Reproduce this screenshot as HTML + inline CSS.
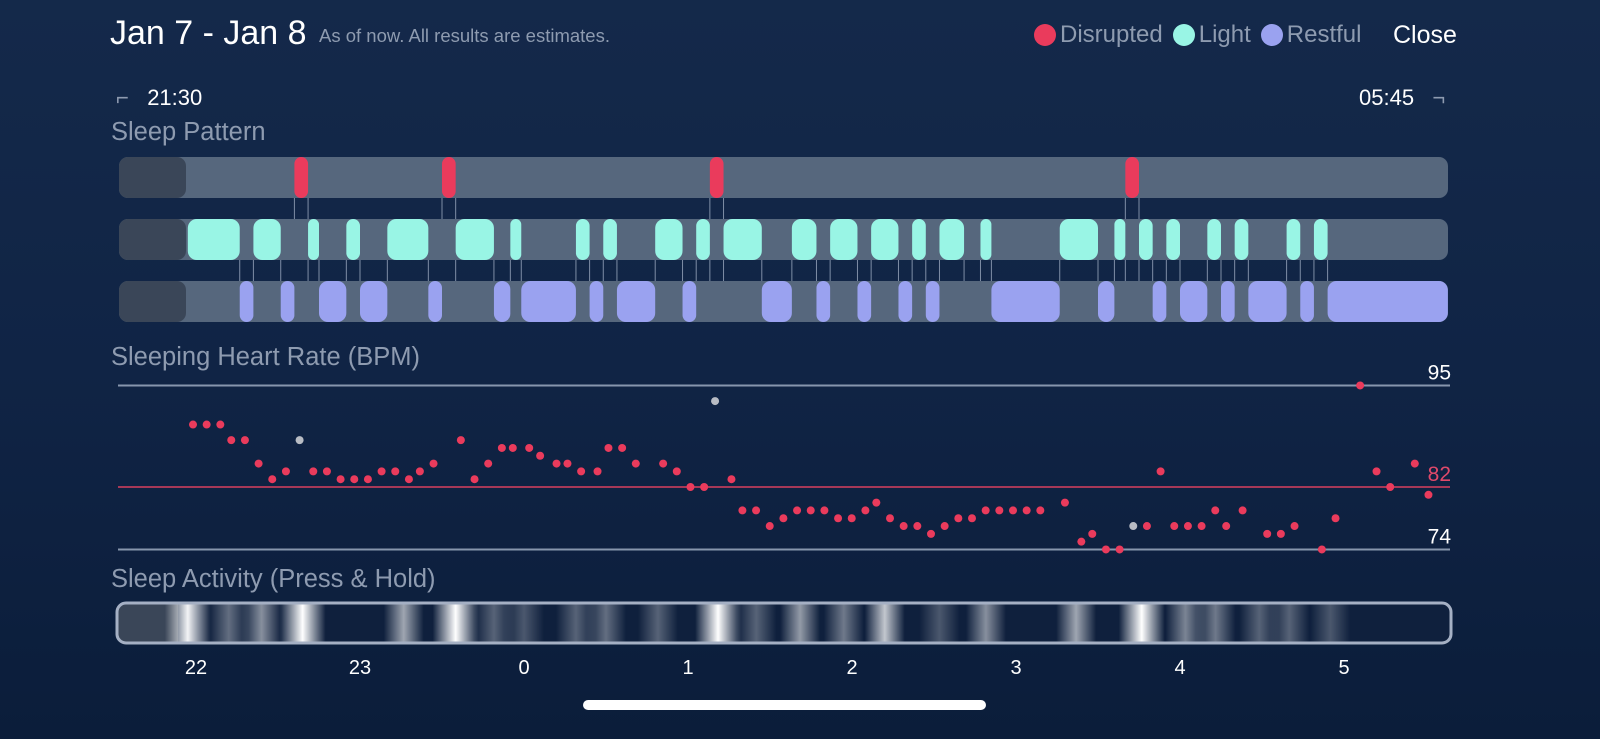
<!DOCTYPE html>
<html><head><meta charset="utf-8">
<style>
html,body{margin:0;padding:0}
body{width:1600px;height:739px;overflow:hidden;background:linear-gradient(180deg,#14294a 0%,#102445 50%,#0b1d3a 100%);font-family:"Liberation Sans",sans-serif;position:relative;color:#fff}
.abs{position:absolute}
.lbl{color:#8e9bb0;font-size:25.5px}
</style></head><body>
<div class="abs" style="left:110px;top:14px;font-size:34px;">Jan 7 - Jan 8</div>
<div class="abs" style="left:319px;top:25px;font-size:18.5px;color:#8e9bb0">As of now. All results are estimates.</div>
<div class="abs" style="left:1034px;top:21px;font-size:24px;color:#8e9bb0;display:flex;align-items:center;gap:6px">
 <span style="display:flex;align-items:center;gap:4px"><i style="display:inline-block;width:22px;height:22px;border-radius:50%;background:#ea3b5c"></i>Disrupted</span>
 <span style="display:flex;align-items:center;gap:4px;margin-left:4px"><i style="display:inline-block;width:22px;height:22px;border-radius:50%;background:#99f5e5"></i>Light</span>
 <span style="display:flex;align-items:center;gap:4px;margin-left:4px"><i style="display:inline-block;width:22px;height:22px;border-radius:50%;background:#9aa2f0"></i>Restful</span>
</div>
<div class="abs" style="left:1393px;top:21px;font-size:25px">Close</div>
<div class="abs" style="left:116px;top:85px;font-size:22px"><span style="color:#8e9bb0">⌐</span>&nbsp;&nbsp; 21:30</div>
<div class="abs" style="left:1359px;top:85px;font-size:22px">05:45 &nbsp;&nbsp;<span style="color:#8e9bb0">¬</span></div>
<div class="abs lbl" style="left:111px;top:118px">Sleep Pattern</div>
<div class="abs lbl" style="left:111px;top:343px">Sleeping Heart Rate (BPM)</div>
<div class="abs lbl" style="left:111px;top:565px">Sleep Activity (Press &amp; Hold)</div>
<div class="abs" style="left:583px;top:700px;width:403px;height:10px;border-radius:5px;background:#fff"></div>
<svg id="chart" class="abs" style="left:0;top:0" width="1600" height="739"></svg>
<script>
// Sleep stages: [startMin, endMin] minutes after 22:00
const disrupted = [[36,41],[90,95],[188,193],[340,345]];
const light = [[-3,16],[21,31],[41,45],[55,60],[70,85],[95,109],[115,119],[139,144],[149,154],[168,178],[183,188],[193,207],[218,227],[232,242],[247,257],[262,267],[272,281],[287,291],[316,330],[336,340],[345,350],[355,360],[370,375],[380,385],[399,404],[409,414]];
const restful = [[16,21],[31,36],[45,55],[60,70],[85,90],[109,115],[119,139],[144,149],[154,168],[178,183],[207,218],[227,232],[242,247],[257,262],[267,272],[291,316],[330,336],[350,355],[360,370],[375,380],[385,399],[404,409],[414,458]];
// Heart rate
const hrMinutes = [0,5,10,14,19,24,29,34,39,44,49,54,59,64,69,74,79,83,88,98,103,108,113,117,123,127,133,137,142,148,152,157,162,172,177,182,187,191,197,201,206,211,216,221,226,231,236,241,246,250,255,260,265,270,275,280,285,290,295,300,305,310,319,325,329,334,339,344,349,354,359,364,369,374,378,384,393,398,403,413,418,427,433,438,447,452];
const hrValues = [90,90,90,88,88,85,83,84,88,84,84,83,83,83,84,84,83,84,85,88,83,85,87,87,87,86,85,85,84,84,87,87,85,85,84,82,82,93,83,79,79,77,78,79,79,79,78,78,79,80,78,77,77,76,77,78,78,79,79,79,79,79,80,75,76,74,74,77,77,84,77,77,77,79,77,79,76,76,77,74,78,95,84,82,85,81];
const hrGray = [8,37,67];
const hrRefs = [95,82,74];
const hourTicks = ["22","23","0","1","2","3","4","5"];
// Activity bands: minute, intensity
const actMin = [-3,12,24,39,76,95,109,120,139,150,169,191,205,221,237,252,272,289,322,346,362,373,389,400,415];
const actVal = [0.95,0.35,0.5,1.0,0.6,1.0,0.3,0.25,0.3,0.35,0.3,1.0,0.3,0.55,0.4,0.75,0.25,0.5,0.6,1.0,0.45,0.4,0.3,0.3,0.25];

const svg=document.getElementById('chart');
const NS='http://www.w3.org/2000/svg';
const X0=196, PXH=164;
function xs(m){return X0+m*PXH/60;}
function yhr(b){return 487+(82-b)*7.81;}
function mk(t,a,p){const e=document.createElementNS(NS,t);for(const k in a)e.setAttribute(k,a[k]);(p||svg).appendChild(e);return e;}

const defs=mk('defs',{});
const cp=mk('clipPath',{id:'actclip'},defs);
mk('rect',{x:118,y:604,width:1332,height:38,rx:8},cp);

disrupted.forEach(s=>{[s[0],s[1]].forEach(m=>{
  const l=mk('line',{x1:xs(m),x2:xs(m),y1:178,y2:240,stroke:'#7f8ea6','stroke-width':1});
  
  
});});
light.forEach(s=>{[s[0],s[1]].forEach(m=>{
  if(m<0)return;
  const l=mk('line',{x1:xs(m),x2:xs(m),y1:240,y2:302,stroke:'#7f8ea6','stroke-width':1});
  
  
});});
[[157,'disrupted-track'],[219,'light-track'],[281,'restful-track']].forEach(r=>{
  const t=mk('rect',{x:119,y:r[0],width:1329,height:41,rx:9,fill:'#56677d'});
  
  
  const d=mk('rect',{x:119,y:r[0],width:67,height:41,rx:9,fill:'#3a4658'});
  
  
});
function seg(arr,y,fill,name){arr.forEach(s=>{
  const a=xs(s[0]),w=xs(s[1])-a;
  const r=mk('rect',{x:a,y:y,width:w,height:41,rx:Math.min(9,w/2),fill:fill});
  
  
});}
seg(disrupted,157,'#ea3b5c','disrupted-segment');
seg(light,219,'#99f5e5','light-segment');
seg(restful,281,'#9aa2f0','restful-segment');

hrRefs.forEach((v,i)=>{
  const col=i==1?'#d8405e':'#8796ad';
  const l=mk('line',{x1:118,x2:1450,y1:yhr(v),y2:yhr(v),stroke:col,'stroke-width':i==1?1.5:2});
  
  
  const t=mk('text',{x:1451,y:yhr(v)-6,'text-anchor':'end','font-size':21,fill:i==1?'#e0496a':'#fff','font-family':'Liberation Sans, sans-serif'});
  t.textContent=v;
  
  
});
hrMinutes.forEach((m,i)=>{
  const c=mk('circle',{cx:xs(m)-3,cy:yhr(hrValues[i]),r:4,fill:hrGray.includes(i)?'#b8bcc4':'#ea3b5c'});
  
  
});

const g=mk('g',{'clip-path':'url(#actclip)'});
const bg=mk('rect',{x:116,y:602,width:1336,height:42,fill:'#0f203d'},g);


const aw=mk('rect',{x:116,y:602,width:62,height:42,fill:'#3a4658'},g);


actMin.forEach((m,i)=>{
  const id='ag'+i;
  const lg=mk('linearGradient',{id:id,x1:0,x2:1,y1:0,y2:0},defs);
  const v=actVal[i];
  mk('stop',{offset:'0','stop-color':'#ffffff','stop-opacity':0},lg);
  mk('stop',{offset:'0.5','stop-color':'#ffffff','stop-opacity':v},lg);
  mk('stop',{offset:'1','stop-color':'#ffffff','stop-opacity':0},lg);
  const w=v>0.9?46:40;
  const r=mk('rect',{x:xs(m)-w/2,y:602,width:w,height:42,fill:'url(#'+id+')'},g);
  
  
});
const bd=mk('rect',{x:117,y:603,width:1334,height:40,rx:9,fill:'none',stroke:'#a5b0c4','stroke-width':3});



hourTicks.forEach((h,i)=>{
  const t=mk('text',{x:xs(i*60),y:674,'text-anchor':'middle','font-size':20,fill:'#fff','font-family':'Liberation Sans, sans-serif'});
  t.textContent=h;
  
  
});
</script>
</body></html>
